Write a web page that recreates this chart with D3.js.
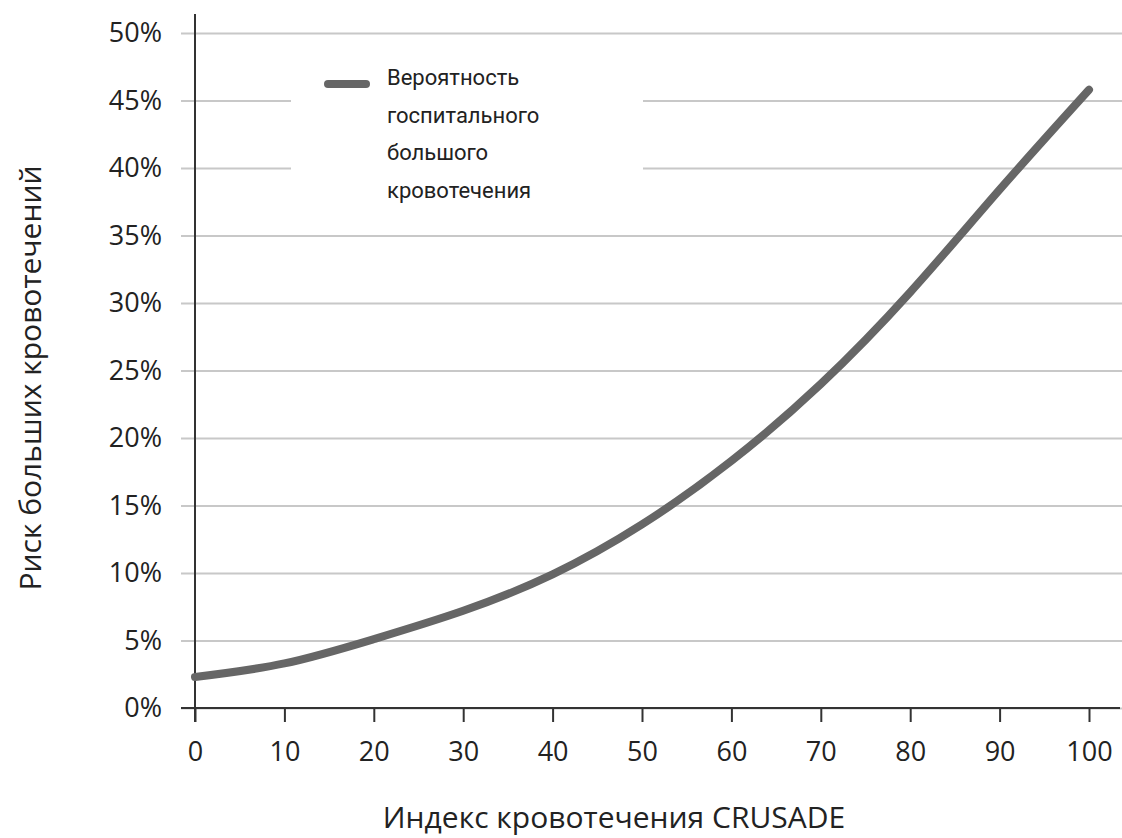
<!DOCTYPE html>
<html>
<head>
<meta charset="utf-8">
<script src="https://cdn.jsdelivr.net/npm/d3@7"></script>
<style>
  html, body { margin: 0; padding: 0; background: #fff; }
  svg { display: block; }
</style>
</head>
<body>
<svg id="chart" width="1122" height="838"></svg>
<script>
// ---- data ----
const crusadeIndex = [0, 10, 20, 30, 40, 50, 60, 70, 80, 90, 100];
const bleedingRisk = [2.3, 3.3, 5.1, 7.2, 9.9, 13.6, 18.3, 24.0, 30.8, 38.4, 45.8];
const xTicks = [0, 10, 20, 30, 40, 50, 60, 70, 80, 90, 100];
const yTicks = [0, 5, 10, 15, 20, 25, 30, 35, 40, 45, 50];
const legendLines = ["Вероятность", "госпитального", "большого", "кровотечения"];
const xTitle = "Индекс кровотечения CRUSADE";
const yTitle = "Риск больших кровотечений";

// ---- layout ----
const W = 1122, H = 838;
const svg = d3.select("#chart");
const x = d3.scaleLinear().domain([0, 100]).range([195, 1089]);
const y = d3.scaleLinear().domain([0, 50]).range([708, 33]);
const tickFont = "'Open Sans', 'Noto Sans', sans-serif";

// gridlines + y labels
const yAxis = d3.axisLeft(y).tickValues(yTicks)
  .tickSize(-(W - 181)).tickPadding(19)
  .tickFormat(d => d + "%");
const gy = svg.append("g").attr("transform", "translate(181,0)").call(yAxis);
gy.select(".domain").remove();
gy.selectAll(".tick line").attr("stroke", "#c8c8c8").attr("stroke-width", 2);
gy.selectAll(".tick text").attr("font-family", tickFont).attr("font-size", 27)
  .attr("fill", "#222");

// legend gap in gridlines
svg.append("rect").attr("x", 291).attr("y", 60).attr("width", 352).attr("height", 150)
  .attr("fill", "#fff");

// x axis
const xAxis = d3.axisBottom(x).tickValues(xTicks).tickSize(14).tickPadding(20);
const gx = svg.append("g").attr("transform", "translate(0,708)").call(xAxis);
gx.select(".domain").remove();
gx.selectAll(".tick line").attr("stroke", "#333").attr("stroke-width", 2);
gx.selectAll(".tick text").attr("font-family", tickFont).attr("font-size", 27)
  .attr("fill", "#222");
svg.append("line").attr("x1", 181).attr("x2", 1120).attr("y1", 708).attr("y2", 708)
  .attr("stroke", "#333").attr("stroke-width", 2);
// y axis line
svg.append("line").attr("x1", x(0)).attr("x2", x(0)).attr("y1", 14).attr("y2", 722)
  .attr("stroke", "#333").attr("stroke-width", 2);

// curve
const pts = crusadeIndex.map((d, i) => [d, bleedingRisk[i]]);
const line = d3.line().x(d => x(d[0])).y(d => y(d[1])).curve(d3.curveNatural);
svg.append("path").datum(pts).attr("d", line)
  .attr("fill", "none").attr("stroke", "#666").attr("stroke-width", 8)
  .attr("stroke-linecap", "round").attr("stroke-linejoin", "round");

// legend
svg.append("line").attr("x1", 328).attr("x2", 366).attr("y1", 84).attr("y2", 84)
  .attr("stroke", "#666").attr("stroke-width", 8).attr("stroke-linecap", "round");
svg.append("g").selectAll("text").data(legendLines).join("text")
  .attr("x", 387).attr("y", (d, i) => 85 + i * 37.5)
  .attr("font-family", "'Liberation Sans Narrow', 'Roboto', sans-serif")
  .attr("font-size", 22).attr("fill", "#222")
  .text(d => d);

// axis titles
svg.append("text").attr("x", 614).attr("y", 828).attr("text-anchor", "middle")
  .attr("font-family", tickFont).attr("font-size", 30).attr("fill", "#222")
  .text(xTitle);
svg.append("text").attr("transform", "translate(41,378) rotate(-90)")
  .attr("text-anchor", "middle")
  .attr("font-family", tickFont).attr("font-size", 30).attr("fill", "#222")
  .text(yTitle);
</script>
</body>
</html>
